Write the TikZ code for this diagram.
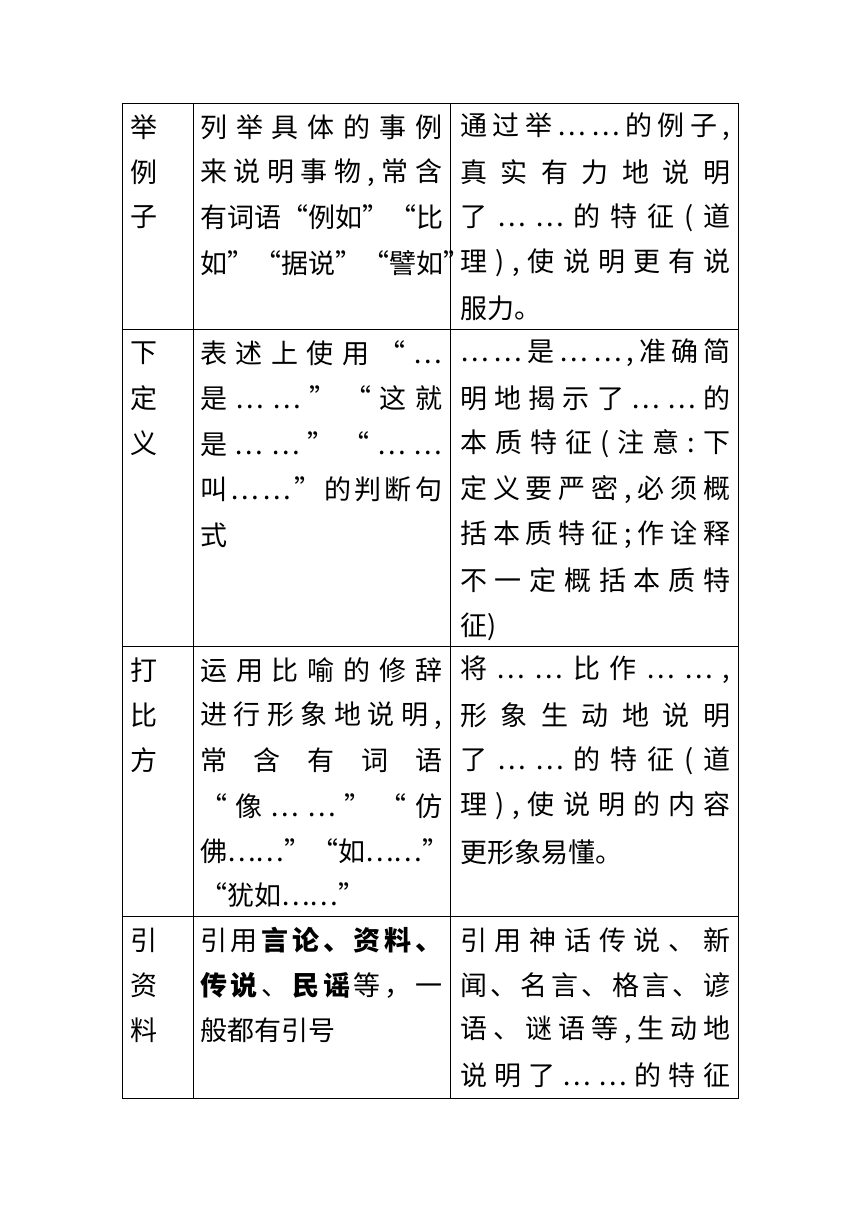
\documentclass[tikz,border=0pt]{standalone}
\usepackage{fontspec}
\setmainfont{Noto Sans CJK SC}
\usetikzlibrary{calc}
\tikzset{
  line/.style={anchor=west, inner sep=0pt, font=\fontsize{27}{30}\selectfont},
  rule/.style={line width=0.8pt}
}
\def\spreadfirst#1{#1\spreadrest}
\def\spreadrest#1{\ifx#1\relax\else\hfil#1\expandafter\spreadrest\fi}
\newcommand{\fullline}[2]{\makebox[#1][s]{\spreadfirst#2\relax}}

\begin{document}
\begin{tikzpicture}[x=1pt, y=-1pt]
\useasboundingbox (0,0) rectangle (860,1216);

% table frame
\draw[rule] (122,103) rectangle (738,1098);
\foreach \x in {193,450}
  \draw[rule] (\x,103) -- (\x,1098);
\foreach \y in {329,646,916}
  \draw[rule] (122,\y) -- (738,\y);

% first column
\foreach \t [count=\i] in {举,例,子}
  \node[line] (a1-\i) at (130,127+45*\i-45) {\t};
\foreach \t [count=\i] in {下,定,义}
  \node[line] (a2-\i) at (130,353+45*\i-45) {\t};
\foreach \t [count=\i] in {打,比,方}
  \node[line] (a3-\i) at (130,670+45*\i-45) {\t};
\foreach \t [count=\i] in {引,资,料}
  \node[line] (a4-\i) at (130,940+45*\i-45) {\t};

% row 1
\foreach \t [count=\i] in {列举具体的事例,{来说明事物,常含},有词语“例如”“比,如”“据说”“譬如”}
  \node[line] (b1-\i) at (200,127+45.3*\i-45.3) {\expandafter\fullline\expandafter{\expandafter2\expandafter4\expandafter2\expandafter p\expandafter t\expandafter}\expandafter{\t}};
\foreach \t [count=\i] in {{通过举……的例子,},真实有力地说明,了……的特征(道,{理),使说明更有说}}
  \node[line] (c1-\i) at (460,127+45.3*\i-45.3) {\expandafter\fullline\expandafter{\expandafter2\expandafter7\expandafter0\expandafter p\expandafter t\expandafter}\expandafter{\t}};
\node[line] (c1-5) at (460,308) {服力。};

% row 2
\foreach \t [count=\i] in {表述上使用“…,是……”“这就,是……”“……,叫……”的判断句}
  \node[line] (b2-\i) at (200,353+45.5*\i-45.5) {\expandafter\fullline\expandafter{\expandafter2\expandafter4\expandafter2\expandafter p\expandafter t\expandafter}\expandafter{\t}};
\node[line] (b2-5) at (200,535) {式};
\foreach \t [count=\i] in {{……是……,准确简},明地揭示了……的,本质特征(注意:下,{定义要严密,必须概},括本质特征;作诠释,不一定概括本质特}
  \node[line] (c2-\i) at (460,353+45.5*\i-45.5) {\expandafter\fullline\expandafter{\expandafter2\expandafter7\expandafter0\expandafter p\expandafter t\expandafter}\expandafter{\t}};
\node[line] (c2-7) at (460,627) {征)};

% row 3
\foreach \t [count=\i] in {运用比喻的修辞,{进行形象地说明,},常含有词语,“像……”“仿,佛……”“如……”}
  \node[line] (b3-\i) at (200,670+45.3*\i-45.3) {\expandafter\fullline\expandafter{\expandafter2\expandafter4\expandafter2\expandafter p\expandafter t\expandafter}\expandafter{\t}};
\node[line] (b3-6) at (200,895) {“犹如……”};
\foreach \t [count=\i] in {{将……比作……,},形象生动地说明,了……的特征(道,{理),使说明的内容}}
  \node[line] (c3-\i) at (460,670+45.3*\i-45.3) {\expandafter\fullline\expandafter{\expandafter2\expandafter7\expandafter0\expandafter p\expandafter t\expandafter}\expandafter{\t}};
\node[line] (c3-5) at (460,852) {更形象易懂。};

% row 4
\node[line] (b4-1) at (200,940) {\makebox[242pt][s]{引\hfil 用\hfil\textbf{言\hfil 论\hfil 、\hfil 资\hfil 料\hfil 、}}};
\node[line] (b4-2) at (200,985) {\makebox[242pt][s]{\textbf{传\hfil 说}\hfil 、\hfil\textbf{民\hfil 谣}\hfil 等\hfil ，\hfil 一}};
\node[line] (b4-3) at (200,1030) {般都有引号};
\foreach \t [count=\i] in {引用神话传说、新,闻、名言、格言、谚,{语、谜语等,生动地},说明了……的特征}
  \node[line] (c4-\i) at (460,940+45*\i-45) {\expandafter\fullline\expandafter{\expandafter2\expandafter7\expandafter0\expandafter p\expandafter t\expandafter}\expandafter{\t}};

\end{tikzpicture}
\end{document}
